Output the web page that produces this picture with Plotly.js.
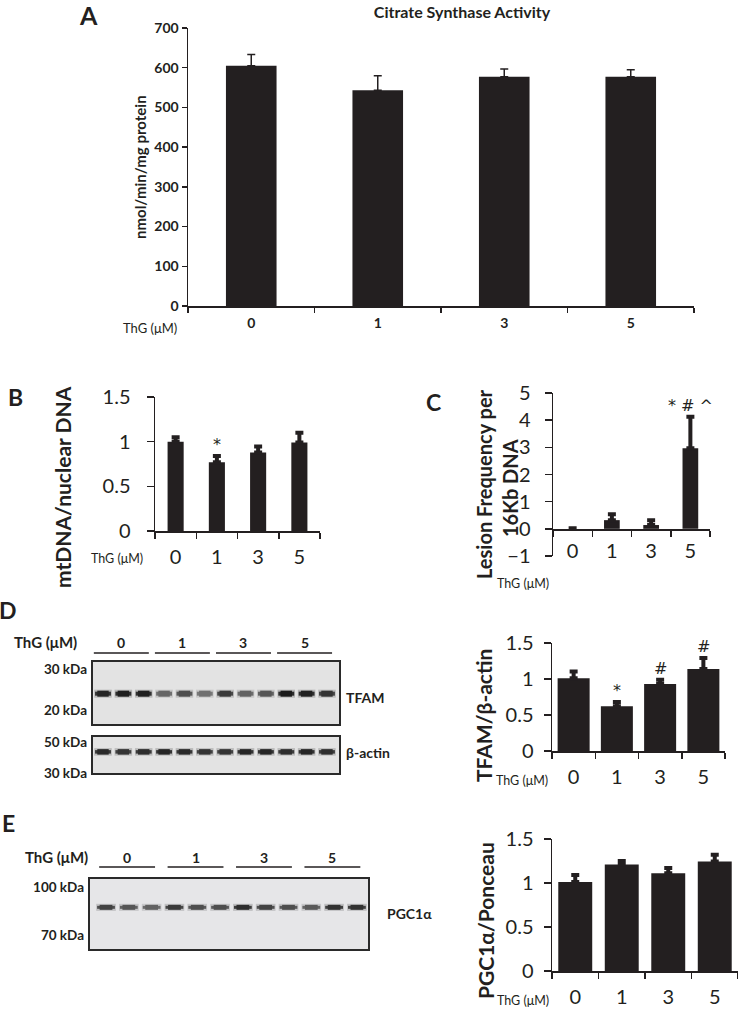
<!DOCTYPE html>
<html><head><meta charset="utf-8">
<script src="https://cdn.plot.ly/plotly-3.0.1.min.js"></script>
<style>html,body{margin:0;padding:0;background:#fff}#chart{width:738px;height:1013px}</style>
</head><body><div id="chart"></div>
<script>
// ---------- data ----------
const doses = ['0', '1', '3', '5'];
const csMean = [605, 543, 577, 577];
const csErr = [28, 37, 20, 18];
const mtMean = [1.00, 0.77, 0.88, 0.99];
const mtErr = [0.05, 0.07, 0.065, 0.11];
const lesionMean = [0.0, 0.32, 0.14, 2.97];
const lesionErr = [0.02, 0.22, 0.18, 1.16];
const tfamMean = [1.01, 0.62, 0.93, 1.14];
const tfamErr = [0.095, 0.06, 0.06, 0.15];
const pgcMean = [1.01, 1.21, 1.11, 1.245];
const pgcErr = [0.08, 0.04, 0.06, 0.075];
// western blot band darkness per lane (3 lanes per dose)
const tfamBands = [0.92, 0.95, 0.95, 0.6, 0.72, 0.55, 0.82, 0.62, 0.68, 0.97, 0.95, 0.85];
const actinBands = [0.9, 0.85, 0.88, 0.92, 0.9, 0.85, 0.85, 0.92, 0.92, 0.88, 0.92, 0.88];
const pgcBands = [0.78, 0.68, 0.62, 0.82, 0.72, 0.72, 0.88, 0.78, 0.72, 0.66, 0.86, 0.86];
const tfamKDa = 23.5, actinKDa = 42.5, pgcKDa = 86;
const tfamMarkers = [30, 20], actinMarkers = [50, 30], pgcMarkers = [100, 70];
const sigB = ['', '*', '', ''];
const sigC = ['', '', '', '* # ^'];
const sigD = ['', '*', '#', '#'];

// ---------- helpers ----------
const W = 738, H = 1013;
const px = v => v / W, py = v => 1 - v / H;
const FONT = 'Lato, Carlito, "Open Sans", sans-serif';
const INK = '#231f20';
const traces = [];

function bars(xa, ya, y, err, width, thick, capw) {
  traces.push({
    type: 'bar', x: doses, y: y, xaxis: xa, yaxis: ya, width: width,
    marker: {color: INK, line: {width: 0}},
    error_y: {type: 'data', symmetric: false, array: err, arrayminus: err.map(() => 0),
      color: INK, thickness: thick, width: capw},
    hoverinfo: 'skip'
  });
}
bars('x', 'y', csMean, csErr, 0.4, 1.5, 4);
bars('x2', 'y2', mtMean, mtErr, 0.39, 4, 4);
bars('x3', 'y3', lesionMean, lesionErr, 0.4, 4, 4);
bars('x4', 'y4', tfamMean, tfamErr, 0.74, 4, 4);
bars('x5', 'y5', pgcMean, pgcErr, 0.73, 4, 4);

function blot(bands, kda, xa, ya, w) {
  bands.forEach((d, i) => {
    const lane = i + 1;
    const g = Math.round(222 - d * 200);
    const col = a => 'rgba(' + g + ',' + g + ',' + g + ',' + a + ')';
    [[0.43, w + 3, 0.22], [0.39, w - 1, 0.9], [0.28, w + 1, 1]].forEach(([half, lw, a]) => {
      traces.push({type: 'scatter', mode: 'lines', x: [lane - half, lane + half], y: [kda, kda],
        xaxis: xa, yaxis: ya, hoverinfo: 'skip', line: {color: col(a), width: lw}});
    });
  });
}
blot(tfamBands, tfamKDa, 'x6', 'y6', 5);
blot(actinBands, actinKDa, 'x7', 'y7', 4.5);
blot(pgcBands, pgcKDa, 'x8', 'y8', 4);

function catX(domain, anchor, size, weight, extra) {
  return Object.assign({
    domain: domain, anchor: anchor, type: 'category', range: [-0.5, 3.5],
    tickson: 'boundaries', ticks: 'outside', ticklen: 6, tickwidth: 1.5, tickcolor: INK,
    showline: true, linecolor: INK, linewidth: 1.5, showgrid: false, zeroline: false,
    tickfont: {family: FONT, size: size, color: INK, weight: weight}, fixedrange: true
  }, extra || {});
}
function numY(domain, anchor, range, dtick, size, weight, extra) {
  return Object.assign({
    domain: domain, anchor: anchor, range: range, dtick: dtick,
    ticks: 'outside', ticklen: 7, tickwidth: 1.5, tickcolor: INK,
    showline: true, linecolor: INK, linewidth: 1.5, showgrid: false, zeroline: false,
    tickfont: {family: FONT, size: size, color: INK, weight: weight}, fixedrange: true
  }, extra || {});
}
function blotX(domain, anchor, range) {
  return {domain: domain, anchor: anchor, range: range, visible: false, fixedrange: true};
}
function blotY(domain, anchor, range, marks) {
  return {domain: domain, anchor: anchor, type: 'log', range: range, showline: false,
    showgrid: false, zeroline: false, ticks: '', tickvals: marks,
    ticktext: marks.map(m => m + ' kDa'), ticklabelstandoff: 4,
    tickfont: {family: FONT, size: 13.5, color: INK, weight: 700}, fixedrange: true};
}

const layout = {
  width: W, height: H, margin: {l: 0, r: 0, t: 0, b: 0},
  paper_bgcolor: '#fff', plot_bgcolor: 'rgba(0,0,0,0)', showlegend: false,
  font: {family: FONT, color: INK},
  title: {text: 'Citrate Synthase Activity', x: px(462), y: py(12), xref: 'paper', yref: 'container',
    xanchor: 'center', yanchor: 'middle', font: {family: FONT, size: 16, weight: 700, color: INK}},
  xaxis: catX([px(188), px(694)], 'y', 14, 700, {ticklabelstandoff: 4, ticklen: 5}),
  yaxis: numY([py(306), py(28)], 'x', [0, 700], 100, 14, 700, {ticklen: 5, ticklabelstandoff: 0}),
  xaxis2: catX([px(155), px(320)], 'y2', 20, 400, {ticklabelstandoff: 7}),
  yaxis2: numY([py(531), py(397)], 'x2', [0, 1.5], 0.5, 20, 400, {ticklabelstandoff: 12}),
  xaxis3: catX([px(553), px(710)], 'free', 20, 400, {position: py(529), ticklabelstandoff: 3}),
  yaxis3: numY([py(556), py(393)], 'x3', [-1, 5], 1, 20, 400, {ticklabelstandoff: 10}),
  xaxis4: catX([px(552), px(725)], 'y4', 20, 400, {ticklabelstandoff: 7}),
  yaxis4: numY([py(751), py(643)], 'x4', [0, 1.5], 0.5, 20, 400, {ticklabelstandoff: 6}),
  xaxis5: catX([px(552), 1], 'y5', 20, 400, {ticklabelstandoff: 7}),
  yaxis5: numY([py(971), py(839)], 'x5', [0, 1.5], 0.5, 20, 400, {ticklabelstandoff: 6}),
  xaxis6: blotX([px(92), px(340)], 'y6', [0.46, 12.64]),
  yaxis6: blotY([py(725), py(661)], 'x6', [1.237, 1.511], tfamMarkers),
  xaxis7: blotX([px(92), px(340)], 'y7', [0.46, 12.64]),
  yaxis7: blotY([py(774), py(736)], 'x7', [1.470, 1.742], actinMarkers),
  xaxis8: blotX([px(89), px(369)], 'y8', [0.254, 12.53]),
  yaxis8: blotY([py(950), py(878)], 'x8', [1.797, 2.029], pgcMarkers),
  shapes: [], annotations: []
};

// blot frames
[['x6', 'y6', '#e3e3e3'], ['x7', 'y7', '#e3e3e3'], ['x8', 'y8', '#e6e6e8']].forEach(([xa, ya, fill]) => {
  layout.shapes.push({type: 'rect', xref: xa + ' domain', yref: ya + ' domain', x0: 0, x1: 1, y0: 0, y1: 1,
    fillcolor: fill, line: {color: '#2a2a2a', width: 2}, layer: 'below'});
});

const ann = (o) => layout.annotations.push(Object.assign({showarrow: false, xref: 'paper', yref: 'paper',
  xanchor: 'center', yanchor: 'middle'}, o));
const bold = (size) => ({family: FONT, size: size, color: INK, weight: 700});
const reg = (size) => ({family: FONT, size: size, color: INK, weight: 400});

// group headers above blots
function groupHeader(xa, yLabel, yLine, x0off, x1off) {
  doses.forEach((d, g) => {
    const a = 3 * g + x0off, b = 3 * g + x1off;
    layout.shapes.push({type: 'line', xref: xa, yref: 'paper', x0: a, x1: b, y0: py(yLine), y1: py(yLine),
      line: {color: INK, width: 1.5}});
    ann({xref: xa, x: (a + b) / 2, y: py(yLabel), text: d, font: bold(14)});
  });
}
groupHeader('x6', 642, 653, 0.55, 3.25);
groupHeader('x8', 857, 867, 0.7, 3.15);

// panel letters
ann({x: px(88), y: py(15), text: 'A', font: bold(25)});
ann({x: px(15), y: py(397), text: 'B', font: bold(23)});
ann({x: px(433), y: py(402), text: 'C', font: bold(23)});
ann({x: px(8), y: py(610), text: 'D', font: bold(23)});
ann({x: px(8), y: py(823), text: 'E', font: bold(23)});

// axis titles
ann({x: px(140), y: py(167), text: 'nmol/min/mg protein', textangle: -90, font: bold(15)});
ann({x: px(63), y: py(487), text: 'mtDNA/nuclear DNA', textangle: -90, font: bold(21)});
ann({x: px(484), y: py(484), text: 'Lesion Frequency per', textangle: -90, font: bold(20)});
ann({x: px(510), y: py(488), text: '16Kb DNA', textangle: -90, font: bold(20)});
ann({x: px(483), y: py(715), text: 'TFAM/β-actin', textangle: -90, font: bold(21)});
ann({x: px(485), y: py(921), text: 'PGC1α/Ponceau', textangle: -90, font: bold(21)});

// ThG labels
ann({x: px(150), y: py(328), text: 'ThG (μM)', font: reg(13)});
ann({x: px(117), y: py(558), text: 'ThG (μM)', font: reg(12.5)});
ann({x: px(523), y: py(583), text: 'ThG (μM)', font: reg(12.5)});
ann({x: px(522), y: py(780), text: 'ThG (μM)', font: reg(12.5)});
ann({x: px(523), y: py(1000), text: 'ThG (μM)', font: reg(12.5)});
ann({x: px(45), y: py(642), text: 'ThG (μM)', font: bold(15)});
ann({x: px(56), y: py(857), text: 'ThG (μM)', font: bold(15)});

// blot names
ann({x: px(344), y: py(697), xanchor: 'left', text: 'TFAM', font: bold(14)});
ann({x: px(344), y: py(752), xanchor: 'left', text: 'β-actin', font: bold(14)});
ann({x: px(385), y: py(913), xanchor: 'left', text: 'PGC1α', font: bold(14)});

// significance marks (x given as category index)
function sig(marks, means, errs, xa, ya, size, pad) {
  marks.forEach((m, i) => {
    if (!m) return;
    ann({xref: xa, yref: ya, x: i, y: means[i] + errs[i] + pad, yanchor: 'bottom', text: m,
      font: {family: '"DejaVu Sans", sans-serif', size: size, color: INK}});
  });
}
sig(sigB, mtMean, mtErr, 'x2', 'y2', 16, 0.0);
sig(sigC, lesionMean, lesionErr, 'x3', 'y3', 16, 0.0);
sig(sigD, tfamMean, tfamErr, 'x4', 'y4', 16, 0.0);

Plotly.newPlot('chart', traces, layout, {displayModeBar: false, staticPlot: true});
</script></body></html>
